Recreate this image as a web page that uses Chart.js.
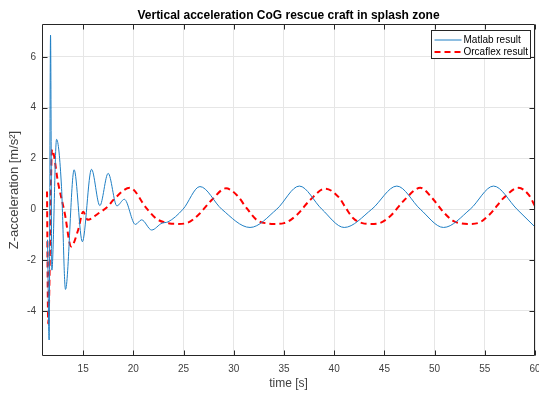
<!DOCTYPE html>
<html>
<head>
<meta charset="utf-8">
<title>Vertical acceleration CoG rescue craft in splash zone</title>
<script src="https://cdn.jsdelivr.net/npm/chart.js@4.4.0/dist/chart.umd.min.js"></script>
<style>
html, body { margin: 0; padding: 0; background: #fff; }
</style>
</head>
<body>
<canvas id="myChart" width="539" height="396"></canvas>
<script>
// Matlab simulation, time [s] and z-acceleration [m/s^2]
var matlabTime = [11.45, 11.61, 11.75, 11.88, 12.35, 12.84, 13.24, 14.10, 14.92, 15.83,
    16.66, 17.49, 18.36, 19.10, 20.20, 20.82, 21.82, 22.85, 23.45, 24.95,
    26.63, 28.80, 31.62, 34.28, 36.53, 38.77, 41.00, 43.75, 46.24, 48.57,
    50.89, 53.55, 55.87, 58.20, 60.00];
var matlabAccel = [-1.2, -5.15, 6.85, -2.4, 2.75, 0.9, -3.16, 1.55, -1.28, 1.57,
    0.14, 1.41, 0.13, 0.39, -0.6, -0.42, -0.82, -0.55, -0.5, 0.0,
    0.89, 0.0, -0.72, 0.0, 0.91, 0.0, -0.72, 0.0, 0.91, 0.0,
    -0.72, 0.0, 0.91, 0.0, -0.7];

// Orcaflex simulation
var orcaTime = [11.40, 11.52, 11.90, 12.51, 13.17, 13.80, 14.50, 15.00, 15.45, 16.50,
    17.49, 18.00, 19.65, 21.32, 22.30, 23.60, 24.40, 25.30, 26.46, 27.80,
    29.22, 30.29, 31.30, 32.30, 33.30, 34.10, 35.00, 36.27, 37.60, 39.10,
    40.50, 41.20, 41.90, 42.80, 43.60, 44.50, 45.60, 46.90, 48.57, 49.73,
    50.89, 51.80, 52.60, 53.40, 54.30, 55.50, 56.90, 58.37, 59.40, 60.00];
var orcaAccel = [0.7, -4.5, 2.35, 1.02, -0.17, -1.47, -0.82, -0.1, -0.42, -0.17,
    0.12, 0.36, 0.84, 0.03, -0.38, -0.56, -0.58, -0.55, -0.23, 0.36,
    0.82, 0.56, 0.03, -0.43, -0.56, -0.58, -0.55, -0.23, 0.36, 0.81,
    0.45, 0.02, -0.36, -0.55, -0.58, -0.55, -0.27, 0.32, 0.84, 0.45,
    -0.12, -0.45, -0.56, -0.58, -0.55, -0.2, 0.45, 0.84, 0.55, 0.12];

var xTicks = [15, 20, 25, 30, 35, 40, 45, 50, 55, 60];
var yTicks = [-4, -2, 0, 2, 4, 6];

var fontFamily = '"Liberation Sans", Arial, Helvetica, sans-serif';
var axisColor = '#262626';
var labelColor = '#404040';

function toPoints(xs, ys) {
    return xs.map(function(x, i) {
        return { x: x, y: ys[i] };
    });
}

// box round the axes with inward ticks, and the legend
var axesBox = {
    id: 'axesBox',
    afterDraw: function(chart) {
        var ctx = chart.ctx;
        var a = chart.chartArea;
        var xs = chart.scales.x;
        var ys = chart.scales.y;
        var l = Math.round(a.left) + 0.5, r = Math.round(a.right) - 0.5;
        var t = Math.round(a.top) + 0.5, b = Math.round(a.bottom) - 0.5;
        ctx.save();
        ctx.strokeStyle = axisColor;
        ctx.lineWidth = 1;
        ctx.beginPath();
        ctx.rect(l, t, r - l, b - t);
        xTicks.forEach(function(v) {
            var px = Math.round(xs.getPixelForValue(v)) + 0.5;
            ctx.moveTo(px, t); ctx.lineTo(px, t + 5);
            ctx.moveTo(px, b); ctx.lineTo(px, b - 5);
        });
        yTicks.forEach(function(v) {
            var py = Math.round(ys.getPixelForValue(v)) + 0.5;
            ctx.moveTo(l, py); ctx.lineTo(l + 5, py);
            ctx.moveTo(r, py); ctx.lineTo(r - 5, py);
        });
        ctx.stroke();

        // legend in the upper right corner
        var bx = Math.round(a.right) - 103.5, by = t + 6, bw = 99, bh = 28;
        ctx.fillStyle = '#fff';
        ctx.fillRect(bx, by, bw, bh);
        ctx.strokeStyle = axisColor;
        ctx.lineWidth = 1;
        ctx.strokeRect(bx, by, bw, bh);
        ctx.font = '10px ' + fontFamily;
        ctx.textBaseline = 'middle';
        chart.data.datasets.forEach(function(ds, i) {
            var y = by + 9.5 + i * 12;
            ctx.beginPath();
            ctx.strokeStyle = ds.borderColor;
            ctx.lineWidth = ds.borderWidth;
            ctx.setLineDash(ds.borderDash || []);
            ctx.moveTo(bx + 3, y);
            ctx.lineTo(bx + 30, y);
            ctx.stroke();
            ctx.setLineDash([]);
            ctx.fillStyle = '#000';
            ctx.fillText(ds.label, bx + 32, y);
        });
        ctx.restore();
    }
};

var ctx = document.getElementById('myChart').getContext('2d');
var myChart = new Chart(ctx, {
    type: 'line',
    data: {
        datasets: [{
            label: 'Matlab result',
            data: toPoints(matlabTime, matlabAccel),
            borderColor: '#1f7fc4',
            borderWidth: 1,
            pointRadius: 0,
            cubicInterpolationMode: 'monotone'
        }, {
            label: 'Orcaflex result',
            data: toPoints(orcaTime, orcaAccel),
            borderColor: '#ff0000',
            borderWidth: 2,
            borderDash: [6, 4],
            pointRadius: 0,
            cubicInterpolationMode: 'monotone'
        }]
    },
    options: {
        responsive: false,
        animation: false,
        layout: { padding: { left: 0, right: 4, top: 0, bottom: 0 } },
        plugins: {
            legend: { display: false },
            tooltip: { enabled: false },
            title: {
                display: true,
                fullSize: false,
                text: 'Vertical acceleration CoG rescue craft in splash zone',
                color: '#000',
                font: { family: fontFamily, size: 12, weight: 'bold' },
                padding: { top: 8, bottom: 1.6 }
            }
        },
        scales: {
            x: {
                type: 'linear',
                min: 10.9,
                max: 60,
                afterBuildTicks: function(scale) {
                    scale.ticks = xTicks.map(function(v) { return { value: v }; });
                },
                afterFit: function(scale) {
                    scale.height = 40;
                    scale.paddingLeft = 0;
                    scale.paddingRight = 0;
                },
                grid: { color: '#e6e6e6', drawTicks: false },
                border: { display: false },
                ticks: { padding: 7, color: labelColor, font: { family: fontFamily, size: 10 } },
                title: {
                    display: true,
                    text: 'time [s]',
                    color: labelColor,
                    font: { family: fontFamily, size: 12 },
                    padding: { top: 0, bottom: 5 }
                }
            },
            y: {
                min: -5.78,
                max: 7.29,
                afterBuildTicks: function(scale) {
                    scale.ticks = yTicks.map(function(v) { return { value: v }; });
                },
                afterFit: function(scale) {
                    scale.width = 42;
                    scale.paddingTop = 0;
                    scale.paddingBottom = 0;
                },
                grid: { color: '#e6e6e6', drawTicks: false },
                border: { display: false },
                ticks: { padding: 6, color: labelColor, font: { family: fontFamily, size: 10 } },
                title: {
                    display: true,
                    text: 'Z-acceleration [m/s\u00b2]',
                    color: labelColor,
                    font: { family: fontFamily, size: 13 },
                    padding: { top: 7, bottom: 0 }
                }
            }
        }
    },
    plugins: [axesBox]
});
</script>
</body>
</html>
